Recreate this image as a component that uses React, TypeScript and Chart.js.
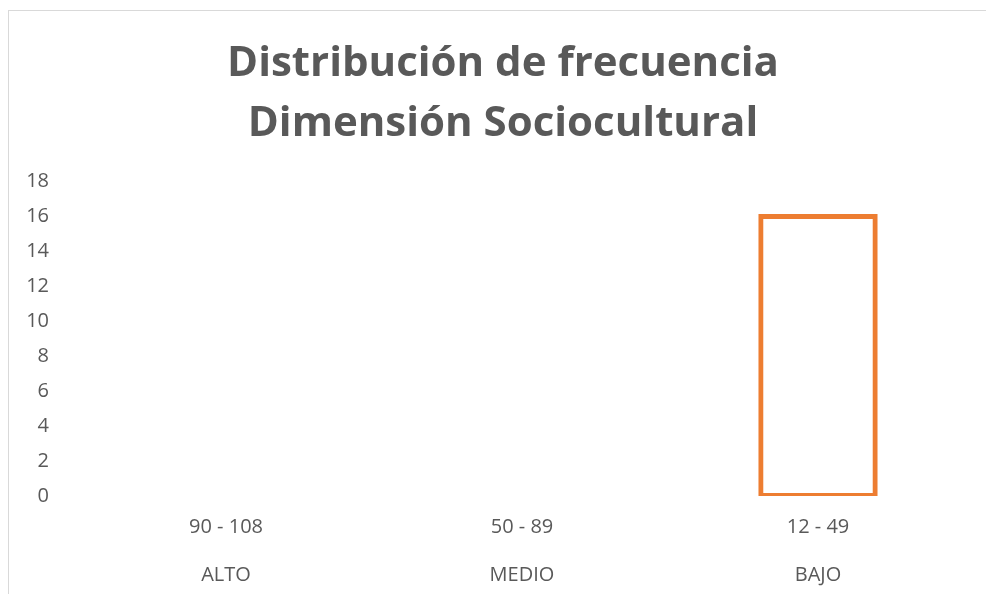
import React, { useEffect, useRef } from "react";
import { Chart, registerables } from "chart.js";

Chart.register(...registerables);

const titleLines = ["Distribución de frecuencia", "Dimensión Sociocultural"];
const rangeLabels = ["90 - 108", "50 - 89", "12 - 49"];
const levelLabels = ["ALTO", "MEDIO", "BAJO"];
const frequencies = [0, 0, 16];
const yTicksMax = 18;
const yTicksStep = 2;

const TEXT = "#595959";
const ORANGE = "#ED7D31";
const FONT = "'Open Sans', sans-serif";

export default function App() {
  const ref = useRef<HTMLCanvasElement | null>(null);

  useEffect(() => {
    document.body.style.overflow = "hidden";
    const canvas = ref.current;
    if (!canvas) return;
    const chart = new Chart(canvas, {
      type: "bar",
      data: {
        labels: rangeLabels.map((r, i) => [r, levelLabels[i]]),
        datasets: [
          {
            data: frequencies,
            backgroundColor: "rgba(255,255,255,0)",
            borderColor: ORANGE,
            borderWidth: (c: any) => (c.raw ? 1 : 0),
            inflateAmount: (c: any) => (c.raw ? 2 : 0),
            borderSkipped: false,
            categoryPercentage: 1,
            barPercentage: 0.39,
          } as any,
        ],
      },
      options: {
        animation: false,
        responsive: true,
        maintainAspectRatio: false,
        layout: { padding: { left: 0, right: 0, top: 0, bottom: 0 } },
        plugins: {
          legend: { display: false },
          tooltip: { enabled: false },
          title: {
            display: true,
            text: titleLines,
            color: TEXT,
            font: { family: FONT, size: 42, weight: "bold", lineHeight: 60 / 42 },
            padding: { top: 34, bottom: 27 },
          },
        },
        scales: {
          x: {
            grid: { display: false, drawTicks: false },
            border: { display: false },
            ticks: {
              color: TEXT,
              font: { family: FONT, size: 20, lineHeight: 48 / 20 },
              padding: 7,
              autoSkip: false,
              maxRotation: 0,
            },
            afterFit: (s: any) => {
              s.height = 98;
            },
          },
          y: {
            min: 0,
            max: yTicksMax,
            grid: { display: false, drawTicks: false },
            border: { display: false },
            ticks: {
              stepSize: yTicksStep,
              color: TEXT,
              font: { family: FONT, size: 20 },
              padding: 29,
            },
            afterFit: (s: any) => {
              s.width = 78;
            },
          },
          yRight: {
            display: true,
            position: "right",
            min: 0,
            max: yTicksMax,
            grid: { display: false, drawTicks: false },
            border: { display: false },
            ticks: { display: false },
            afterFit: (s: any) => {
              s.width = 40;
            },
          },
        } as any,
      },
    });
    return () => chart.destroy();
  }, []);

  return (
    <div style={{ position: "fixed", left: 0, top: 0, width: 986, height: 594, background: "#fff", overflow: "hidden" }}>
      <div
        style={{
          position: "absolute",
          left: 8,
          top: 10,
          width: 1000,
          height: 600,
          borderTop: "1.5px solid #d9d9d9",
          borderLeft: "1.5px solid #d9d9d9",
        }}
      />
      <div style={{ position: "absolute", left: 0, top: 0, width: 1006, height: 594 }}>
        <canvas ref={ref} />
      </div>
    </div>
  );
}
